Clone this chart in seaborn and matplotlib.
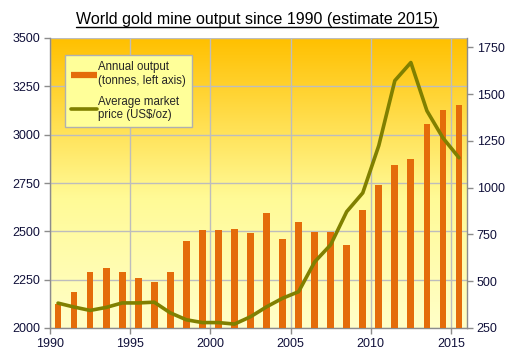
import numpy as np
import pandas as pd
import matplotlib
matplotlib.use("Agg")
import matplotlib.pyplot as plt
from matplotlib.colors import LinearSegmentedColormap
from matplotlib.lines import Line2D
import seaborn as sns

sns.set_style("white")
plt.rcParams['font.family'] = ['Liberation Sans', 'DejaVu Sans']

# data
years = list(range(1990, 2016))
output_tonnes = [2122, 2187, 2289, 2309, 2289, 2258, 2237, 2289, 2448, 2505,
                 2505, 2510, 2491, 2593, 2459, 2546, 2495, 2495, 2428, 2608,
                 2742, 2845, 2873, 3057, 3129, 3155]
price_usd = [383, 362, 344, 360, 384, 384, 388, 331, 294, 279,
             279, 271, 310, 363, 409, 444, 603, 695, 872, 972,
             1225, 1572, 1669, 1411, 1266, 1160]
left_ticks = [2000, 2250, 2500, 2750, 3000, 3250, 3500]
right_ticks = [250, 500, 750, 1000, 1250, 1500, 1750]
x_ticks = [1990, 1995, 2000, 2005, 2010, 2015]

df = pd.DataFrame({'year': np.array(years) + 0.5,
                   'output': output_tonnes,
                   'price': price_usd})

bar_col = '#E46C0A'
line_col = '#808000'
grid_col = '#BDBDBD'

fig = plt.figure(figsize=(5.15, 3.55), dpi=100)
ax = fig.add_axes([50/515, 27/355, 417/515, 290/355])

# gradient background of the plot area
grad = LinearSegmentedColormap.from_list('g', [(0, '#FFFFC8'), (0.45, '#FFFA96'), (1, '#FFC000')])
ax.imshow(np.linspace(0, 1, 256).reshape(-1, 1), cmap=grad, origin='lower',
          extent=[0, 1, 0, 1], transform=ax.transAxes, aspect='auto', zorder=0)

sns.barplot(data=df, x='year', y='output', native_scale=True, width=0.42,
            color=bar_col, saturation=1, ax=ax, zorder=3, errorbar=None,
            linewidth=0, edgecolor='none')
ax.set_xlim(1990, 2016)
ax.set_ylim(2000, 3500)
ax.set_yticks(left_ticks)
ax.set_xticks(x_ticks)
ax.grid(True, color=grid_col, lw=1, zorder=1)
ax.set_axisbelow(True)
ax.set_xlabel('')
ax.set_ylabel('')

ax2 = ax.twinx()
sns.lineplot(data=df, x='year', y='price', color=line_col, lw=2.6, ax=ax2, zorder=4)
ax2.set_ylim(250, 1800)
ax2.set_yticks(right_ticks)
ax2.set_xlim(1990, 2016)
ax2.set_ylabel('')
ax2.set_xlabel('')
ax2.grid(False)

for a in (ax, ax2):
    for s in a.spines.values():
        s.set_visible(False)
    a.tick_params(axis='both', direction='out', length=4, width=1, color='#8C8C8C',
                  labelsize=9, labelcolor='#10103A', pad=3)
ax.spines['left'].set_visible(True)
ax.spines['bottom'].set_visible(True)
ax2.spines['right'].set_visible(True)
for s in (ax.spines['left'], ax.spines['bottom'], ax2.spines['right']):
    s.set_color('#8C8C8C')
    s.set_linewidth(1)
ax.tick_params(axis='y', left=True)
ax.tick_params(axis='x', bottom=True)
ax2.tick_params(axis='y', right=True)

handles = [Line2D([], [], color=bar_col, lw=4.5, solid_capstyle='butt'),
           Line2D([], [], color=line_col, lw=2.6)]
leg = ax.legend(handles, ['Annual output\n(tonnes, left axis)', 'Average market\nprice (US$/oz)'],
                loc='upper left', bbox_to_anchor=(0.036, 0.94), frameon=True, fancybox=False,
                fontsize=8.3, handlelength=2.3, handletextpad=0.1, labelspacing=0.75,
                borderpad=0.5, borderaxespad=0)
leg.get_frame().set_facecolor('#FFFF99')
leg.get_frame().set_edgecolor('#B0B0B0')
leg.get_frame().set_alpha(1)
leg.set_zorder(10)

title = fig.text(0.5, 0.932, 'World gold mine output since 1990 (estimate 2015)',
                 ha='center', va='baseline', fontsize=11.5, color='black')
fig.canvas.draw()
bb = title.get_window_extent().transformed(fig.transFigure.inverted())
fig.add_artist(Line2D([bb.x0, bb.x1], [bb.y0 - 0.001, bb.y0 - 0.001],
                      transform=fig.transFigure, color='black', lw=1))

fig.savefig('out.png', dpi=100, facecolor='white')
